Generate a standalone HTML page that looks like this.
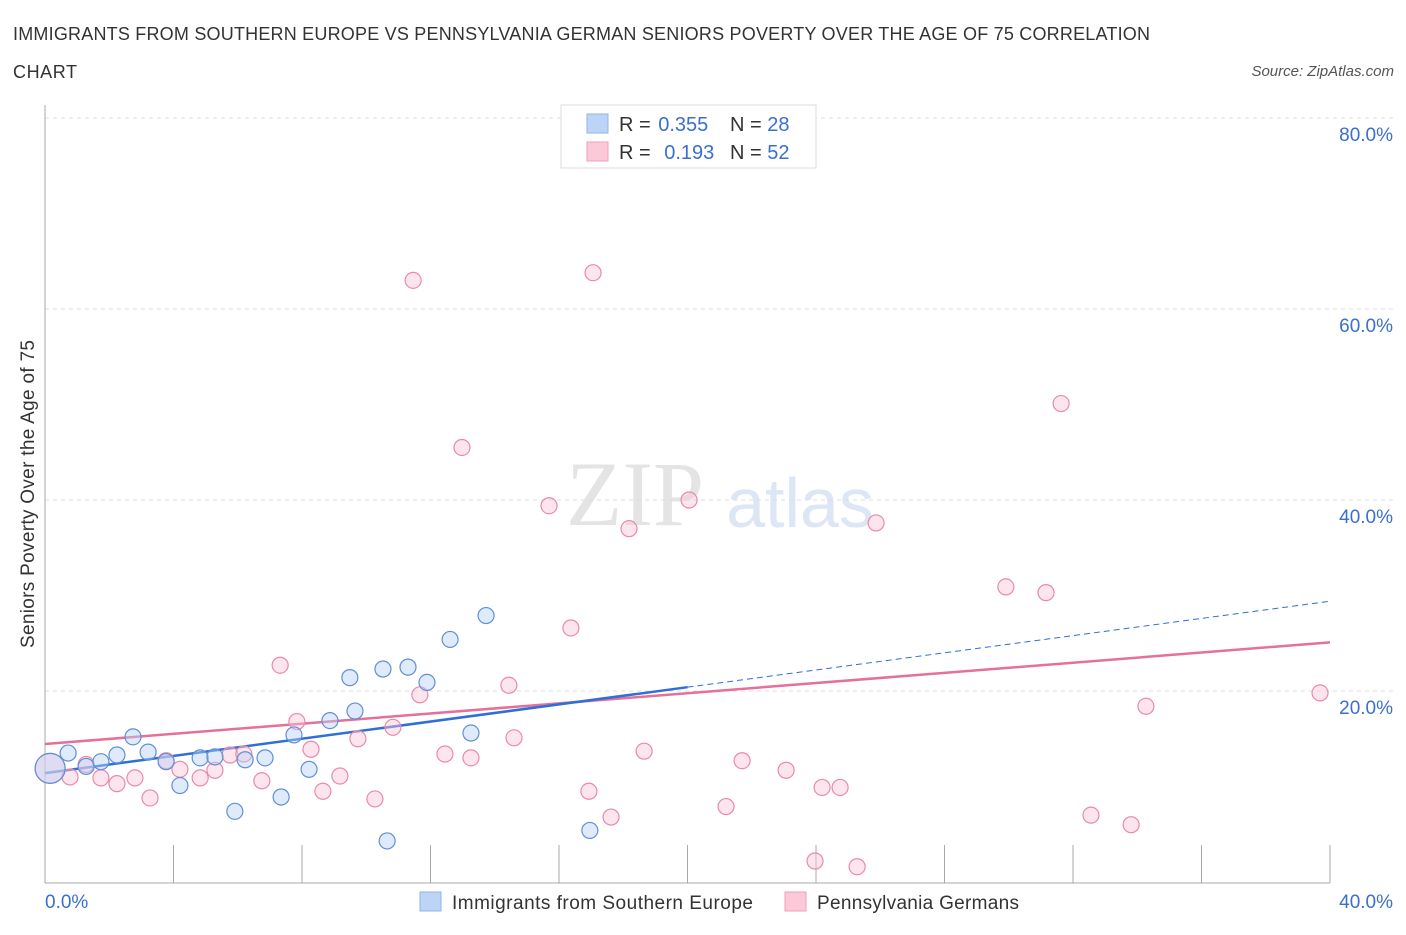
<!DOCTYPE html>
<html><head><meta charset="utf-8"><style>
body{margin:0;background:#fff;font-family:"Liberation Sans",sans-serif;}
svg text{font-family:"Liberation Sans",sans-serif;}
</style></head><body>
<svg id="c" width="1406" height="930" viewBox="0 0 1406 930" xmlns="http://www.w3.org/2000/svg">
<text x="13" y="40" font-size="18" fill="#333" textLength="1137">IMMIGRANTS FROM SOUTHERN EUROPE VS PENNSYLVANIA GERMAN SENIORS POVERTY OVER THE AGE OF 75 CORRELATION</text>
<text x="13" y="78" font-size="18" fill="#333" textLength="64">CHART</text>
<text x="1394" y="76" font-size="15" fill="#555" font-style="italic" text-anchor="end">Source: ZipAtlas.com</text>
<g>
<text x="635" y="525" font-size="92" fill="#e4e4e4" font-family="Liberation Serif" text-anchor="middle" style="font-family:'Liberation Serif',serif">ZIP</text>
<text x="800" y="527" font-size="70" fill="#dce6f4" text-anchor="middle">atlas</text>
</g>
<g id="grid"></g>
<g id="axes"></g>
<g id="lines"></g>
<g id="pts"></g>
<text x="34" y="494" font-size="19" fill="#333" text-anchor="middle" textLength="308" transform="rotate(-90 34 494)">Seniors Poverty Over the Age of 75</text>
<g>
<rect x="561" y="105" width="255" height="63" fill="#fff" stroke="#ddd"/>
<rect x="587" y="114" width="21" height="19" fill="#bcd4f5" stroke="#8fb3e8"/>
<rect x="587" y="142" width="21" height="19" fill="#fcc9d8" stroke="#f0a0b8"/>
<text x="619" y="131" font-size="20" fill="#333">R = <tspan fill="#3a6fd0" dx="2">0.355</tspan></text>
<text x="730" y="131" font-size="20" fill="#333">N = <tspan fill="#3a6fd0">28</tspan></text>
<text x="619" y="159" font-size="20" fill="#333">R = <tspan fill="#3a6fd0" dx="8">0.193</tspan></text>
<text x="730" y="159" font-size="20" fill="#333">N = <tspan fill="#3a6fd0">52</tspan></text>
</g>
<g>
<rect x="420" y="892" width="21" height="19" fill="#bcd4f5" stroke="#8fb3e8"/>
<text x="452" y="909" font-size="19" fill="#333" textLength="301">Immigrants from Southern Europe</text>
<rect x="785" y="892" width="21" height="19" fill="#fcc9d8" stroke="#f0a0b8"/>
<text x="817" y="909" font-size="19" fill="#333" textLength="202">Pennsylvania Germans</text>
</g>
</svg>
<script>
const blueX=[0.16,0.72,1.28,1.74,2.24,2.74,3.21,3.77,4.20,4.83,5.29,5.91,6.23,6.85,7.35,7.75,8.22,8.87,9.49,9.65,10.52,10.65,11.30,11.89,12.61,13.26,13.73,16.96];
const blueY=[11.9,13.5,12.1,12.6,13.3,15.2,13.6,12.6,10.1,13.0,13.1,7.4,12.8,13.0,8.9,15.4,11.8,16.9,21.4,17.9,22.3,4.3,22.5,20.9,25.4,15.6,27.9,5.4];
const pinkX=[0.16,0.78,1.28,1.74,2.24,2.80,3.27,3.77,4.20,4.83,5.29,5.76,6.19,6.75,7.32,7.84,8.28,8.65,9.18,9.74,10.27,10.83,11.46,11.67,12.45,12.98,13.26,14.44,14.60,15.69,16.37,16.93,17.06,17.62,18.18,18.65,20.05,21.20,21.70,23.07,23.97,24.19,24.75,25.28,25.87,29.91,31.16,31.63,32.56,33.81,34.27,39.69];
const pinkY=[11.9,11.0,12.3,10.9,10.3,10.9,8.8,12.7,11.8,10.9,11.7,13.3,13.4,10.6,22.7,16.8,13.9,9.5,11.1,15.0,8.7,16.2,63.0,19.6,13.4,45.5,13.0,20.6,15.1,39.4,26.6,9.5,63.8,6.8,37.0,13.7,40.0,7.9,12.7,11.7,2.2,9.9,9.9,1.6,37.6,30.9,30.3,50.1,7.0,6.0,18.4,19.8];
const blueTrend=[11.4,0.45];
const pinkTrend=[14.45,0.266];
const yTicks=[20,40,60,80];
const yTickLabels=["20.0%","40.0%","60.0%","80.0%"];
const xTicks=[0,4,8,12,16,20,24,28,32,36,40];
const NS="http://www.w3.org/2000/svg";
const X=v=>45+v*32.125, Y=v=>882-v*9.55;
function mk(t,a,p){const e=document.createElementNS(NS,t);for(const k in a)e.setAttribute(k,a[k]);p.appendChild(e);return e;}
const grid=document.getElementById('grid'),axes=document.getElementById('axes'),lines=document.getElementById('lines'),pts=document.getElementById('pts');
yTicks.forEach((v,i)=>{
 const l=mk('line',{x1:45,x2:1395,y1:Y(v),y2:Y(v),stroke:'#ddd','stroke-dasharray':'4,4'},grid);
 
 
 const t=mk('text',{x:1393,y:Y(v)+23,'font-size':19,fill:'#3a6fd0','text-anchor':'end'},axes);
 t.textContent=yTickLabels[i];
 
 
});
const gl=mk('line',{x1:45,x2:1395,y1:118,y2:118,stroke:'#ddd','stroke-dasharray':'4,4'},grid);


const ya=mk('line',{x1:45,x2:45,y1:105,y2:883,stroke:'#aaa'},axes);


const xa=mk('line',{x1:45,x2:1330,y1:883,y2:883,stroke:'#aaa'},axes);


xTicks.forEach(v=>{
 const t=mk('line',{x1:X(v),x2:X(v),y1:845,y2:883,stroke:'#aaa'},axes);
 
 
});
const xl0=mk('text',{x:45,y:908,'font-size':19,fill:'#3a6fd0'},axes);xl0.textContent='0.0%';


const xl1=mk('text',{x:1393,y:908,'font-size':19,fill:'#3a6fd0','text-anchor':'end'},axes);xl1.textContent='40.0%';


function dot(x,y,r,f,s,n){const c=mk('circle',{cx:X(x),cy:Y(y),r:r,fill:f,stroke:s,'stroke-width':1.2,'fill-opacity':0.45},pts);
 
 }
pinkX.forEach((x,i)=>dot(x,pinkY[i],i==0?15:8,'#fbc6d6','#e98aa8','pink-point'));
blueX.forEach((x,i)=>dot(x,blueY[i],i==0?15:8,'#b8d0f3','#5f8fd8','blue-point'));
const pl=mk('line',{x1:X(0),y1:Y(pinkTrend[0]),x2:X(40),y2:Y(pinkTrend[0]+40*pinkTrend[1]),stroke:'#e5709a','stroke-width':2.5},lines);


const bl=mk('line',{x1:X(0),y1:Y(blueTrend[0]),x2:X(20),y2:Y(blueTrend[0]+20*blueTrend[1]),stroke:'#2f6fd6','stroke-width':2.5},lines);


const bd=mk('line',{x1:X(20),y1:Y(blueTrend[0]+20*blueTrend[1]),x2:X(40),y2:Y(blueTrend[0]+40*blueTrend[1]),stroke:'#2f6fd6','stroke-width':1,'stroke-dasharray':'6,4'},lines);


</script>
</body></html>
